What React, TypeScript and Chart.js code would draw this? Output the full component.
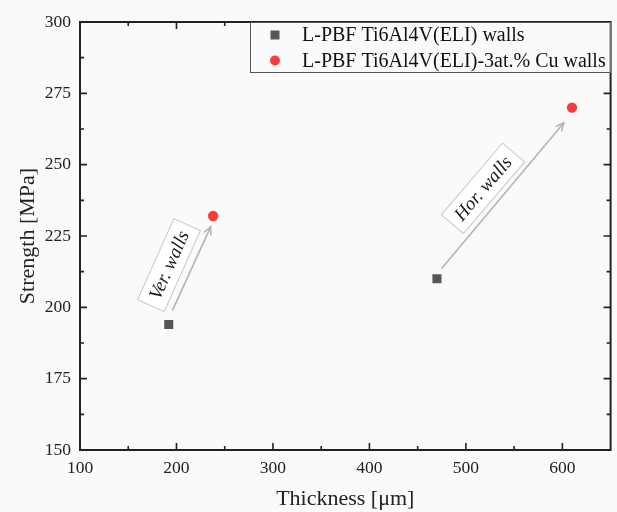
import React, { useEffect, useRef } from "react";
import { Chart, registerables } from "chart.js";

Chart.register(...registerables);

// ---- data ----
const seriesNames = [
  "L-PBF Ti6Al4V(ELI) walls",
  "L-PBF Ti6Al4V(ELI)-3at.% Cu walls",
];
const tiThickness = [192, 470];
const tiStrength = [194, 210];
const cuThickness = [238, 610];
const cuStrength = [232, 270];

const xMin = 100;
const xMax = 650;
const xStep = 100;
const yMin = 150;
const yMax = 300;
const yStep = 25;

// annotations (data units)
const arrowLabels = ["Ver. walls", "Hor. walls"];
const arrowStartX = [196.1, 475.3];
const arrowStartY = [199.1, 213.8];
const arrowEndX = [235.4, 601.4];
const arrowEndY = [228.2, 264.6];
const labelX = [192.3, 517.7];
const labelY = [214.8, 241.7];
const labelAngleDeg = [-66, -49.5];

const xTitle = "Thickness [\u03bcm]";
const yTitle = "Strength [MPa]";

const BG = "#fafafa";
const FONT = "'Liberation Serif', 'Times New Roman', serif";
const SQ_COLOR = "#565656";
const RED = "#ff3a3a";

const framePlugin = {
  id: "framePlugin",
  beforeDraw(chart: any) {
    const { ctx } = chart;
    ctx.save();
    ctx.fillStyle = BG;
    ctx.fillRect(0, 0, chart.width, chart.height);
    ctx.restore();
  },
  afterDatasetsDraw(chart: any) {
    const { ctx, chartArea, scales } = chart;
    const xs = scales.x;
    const ys = scales.y;
    const { left, right, top, bottom } = chartArea;

    // arrows
    ctx.save();
    ctx.strokeStyle = "#b4b4b4";
    ctx.lineWidth = 1.6;
    ctx.lineCap = "round";
    for (let i = 0; i < arrowStartX.length; i++) {
      const x1 = xs.getPixelForValue(arrowStartX[i]);
      const y1 = ys.getPixelForValue(arrowStartY[i]);
      const x2 = xs.getPixelForValue(arrowEndX[i]);
      const y2 = ys.getPixelForValue(arrowEndY[i]);
      ctx.beginPath();
      ctx.moveTo(x1, y1);
      ctx.lineTo(x2, y2);
      ctx.stroke();
      const a = Math.atan2(y2 - y1, x2 - x1);
      const h = 8;
      ctx.beginPath();
      ctx.moveTo(x2 - h * Math.cos(a - 0.45), y2 - h * Math.sin(a - 0.45));
      ctx.lineTo(x2, y2);
      ctx.lineTo(x2 - h * Math.cos(a + 0.45), y2 - h * Math.sin(a + 0.45));
      ctx.stroke();
    }
    ctx.restore();

    // rotated labels
    for (let i = 0; i < arrowLabels.length; i++) {
      const cx = xs.getPixelForValue(labelX[i]);
      const cy = ys.getPixelForValue(labelY[i]);
      ctx.save();
      ctx.translate(cx, cy);
      ctx.rotate((labelAngleDeg[i] * Math.PI) / 180);
      ctx.font = `italic 19px ${FONT}`;
      const w = ctx.measureText(arrowLabels[i]).width + 16;
      const hgt = 29;
      ctx.fillStyle = "#ffffff";
      ctx.fillRect(-w / 2, -hgt / 2, w, hgt);
      ctx.strokeStyle = "#c8c8c8";
      ctx.lineWidth = 1;
      ctx.strokeRect(-w / 2, -hgt / 2, w, hgt);
      ctx.fillStyle = "#1a1a1a";
      ctx.textAlign = "center";
      ctx.textBaseline = "middle";
      ctx.fillText(arrowLabels[i], 0, 1);
      ctx.restore();
    }

    // frame + inward ticks
    ctx.save();
    ctx.strokeStyle = "#222";
    ctx.lineWidth = 1.6;
    const major = 7;
    const minor = 4;
    ctx.beginPath();
    for (let v = xMin; v <= xMax + 1e-6; v += xStep / 2) {
      const px = xs.getPixelForValue(v);
      if (px <= left + 1 || px >= right - 1) continue;
      const isMajor = Math.abs((v - xMin) % xStep) < 1e-6;
      const len = isMajor ? major : minor;
      ctx.moveTo(px, bottom);
      ctx.lineTo(px, bottom - len);
      ctx.moveTo(px, top);
      ctx.lineTo(px, top + len);
    }
    for (let v = yMin; v <= yMax + 1e-6; v += yStep / 2) {
      const py = ys.getPixelForValue(v);
      if (py <= top + 1 || py >= bottom - 1) continue;
      const isMajor = Math.abs((v - yMin) % yStep) < 1e-6;
      const len = isMajor ? major : minor;
      ctx.moveTo(left, py);
      ctx.lineTo(left + len, py);
      ctx.moveTo(right, py);
      ctx.lineTo(right - len, py);
    }
    ctx.stroke();
    ctx.lineWidth = 2;
    ctx.strokeRect(left, top, right - left, bottom - top);
    ctx.restore();

    // legend
    ctx.save();
    const lx = 250;
    const ly = top;
    const lw = right - lx;
    const lh = 51;
    ctx.fillStyle = BG;
    ctx.fillRect(lx, ly, lw, lh);
    ctx.strokeStyle = "#555";
    ctx.lineWidth = 1;
    ctx.strokeRect(lx + 0.5, ly + 0.5, lw - 1, lh - 1);
    const rowY = [ly + 13, ly + 38.5];
    ctx.fillStyle = SQ_COLOR;
    ctx.fillRect(lx + 25 - 4.5, rowY[0] - 4.5, 9, 9);
    ctx.fillStyle = RED;
    ctx.beginPath();
    ctx.arc(lx + 25, rowY[1], 5, 0, Math.PI * 2);
    ctx.fill();
    ctx.fillStyle = "#111";
    ctx.font = `20px ${FONT}`;
    ctx.textAlign = "left";
    ctx.textBaseline = "middle";
    for (let i = 0; i < seriesNames.length; i++) {
      ctx.fillText(seriesNames[i], lx + 52, rowY[i] + 1);
    }
    ctx.restore();
  },
};

export default function App() {
  const ref = useRef<HTMLCanvasElement | null>(null);
  useEffect(() => {
    if (!ref.current) return;
    const chart = new Chart(ref.current, {
      type: "scatter",
      data: {
        datasets: [
          {
            label: seriesNames[0],
            data: tiThickness.map((x, i) => ({ x, y: tiStrength[i] })),
            pointStyle: "rect",
            pointRadius: 6.4,
            backgroundColor: SQ_COLOR,
            borderColor: SQ_COLOR,
            borderWidth: 0,
          },
          {
            label: seriesNames[1],
            data: cuThickness.map((x, i) => ({ x, y: cuStrength[i] })),
            pointStyle: "circle",
            pointRadius: 5.2,
            backgroundColor: RED,
            borderColor: RED,
            borderWidth: 0,
          },
        ],
      },
      options: {
        animation: false,
        responsive: false,
        maintainAspectRatio: false,
        layout: { padding: { top: 22, right: 5, left: 0, bottom: 0 } },
        plugins: {
          legend: { display: false },
          tooltip: { enabled: false },
        },
        scales: {
          x: {
            type: "linear",
            min: xMin,
            max: xMax,
            afterFit: (s: any) => {
              s.height = 62;
            },
            grid: { display: false, drawTicks: false },
            border: { display: false },
            ticks: {
              stepSize: xStep,
              includeBounds: false,
              padding: 8,
              color: "#222",
              font: { family: FONT, size: 17.5 },
              maxRotation: 0,
            },
            title: {
              display: true,
              text: xTitle,
              color: "#222",
              font: { family: FONT, size: 22 },
              padding: { top: 0, bottom: 0 },
            },
          },
          y: {
            type: "linear",
            min: yMin,
            max: yMax,
            afterFit: (s: any) => {
              s.width = 80;
            },
            grid: { display: false, drawTicks: false },
            border: { display: false },
            ticks: {
              stepSize: yStep,
              includeBounds: false,
              padding: 9,
              color: "#222",
              font: { family: FONT, size: 17.5 },
            },
            title: {
              display: true,
              text: yTitle,
              color: "#222",
              font: { family: FONT, size: 22 },
              padding: { top: 15, bottom: 0 },
            },
          },
        },
      },
      plugins: [framePlugin],
    } as any);
    return () => chart.destroy();
  }, []);
  return (
    <div
      style={{
        position: "absolute",
        left: 0,
        top: 0,
        width: 617,
        height: 512,
        background: BG,
      }}
    >
      <canvas ref={ref} width={617} height={512} style={{ display: "block" }} />
    </div>
  );
}
